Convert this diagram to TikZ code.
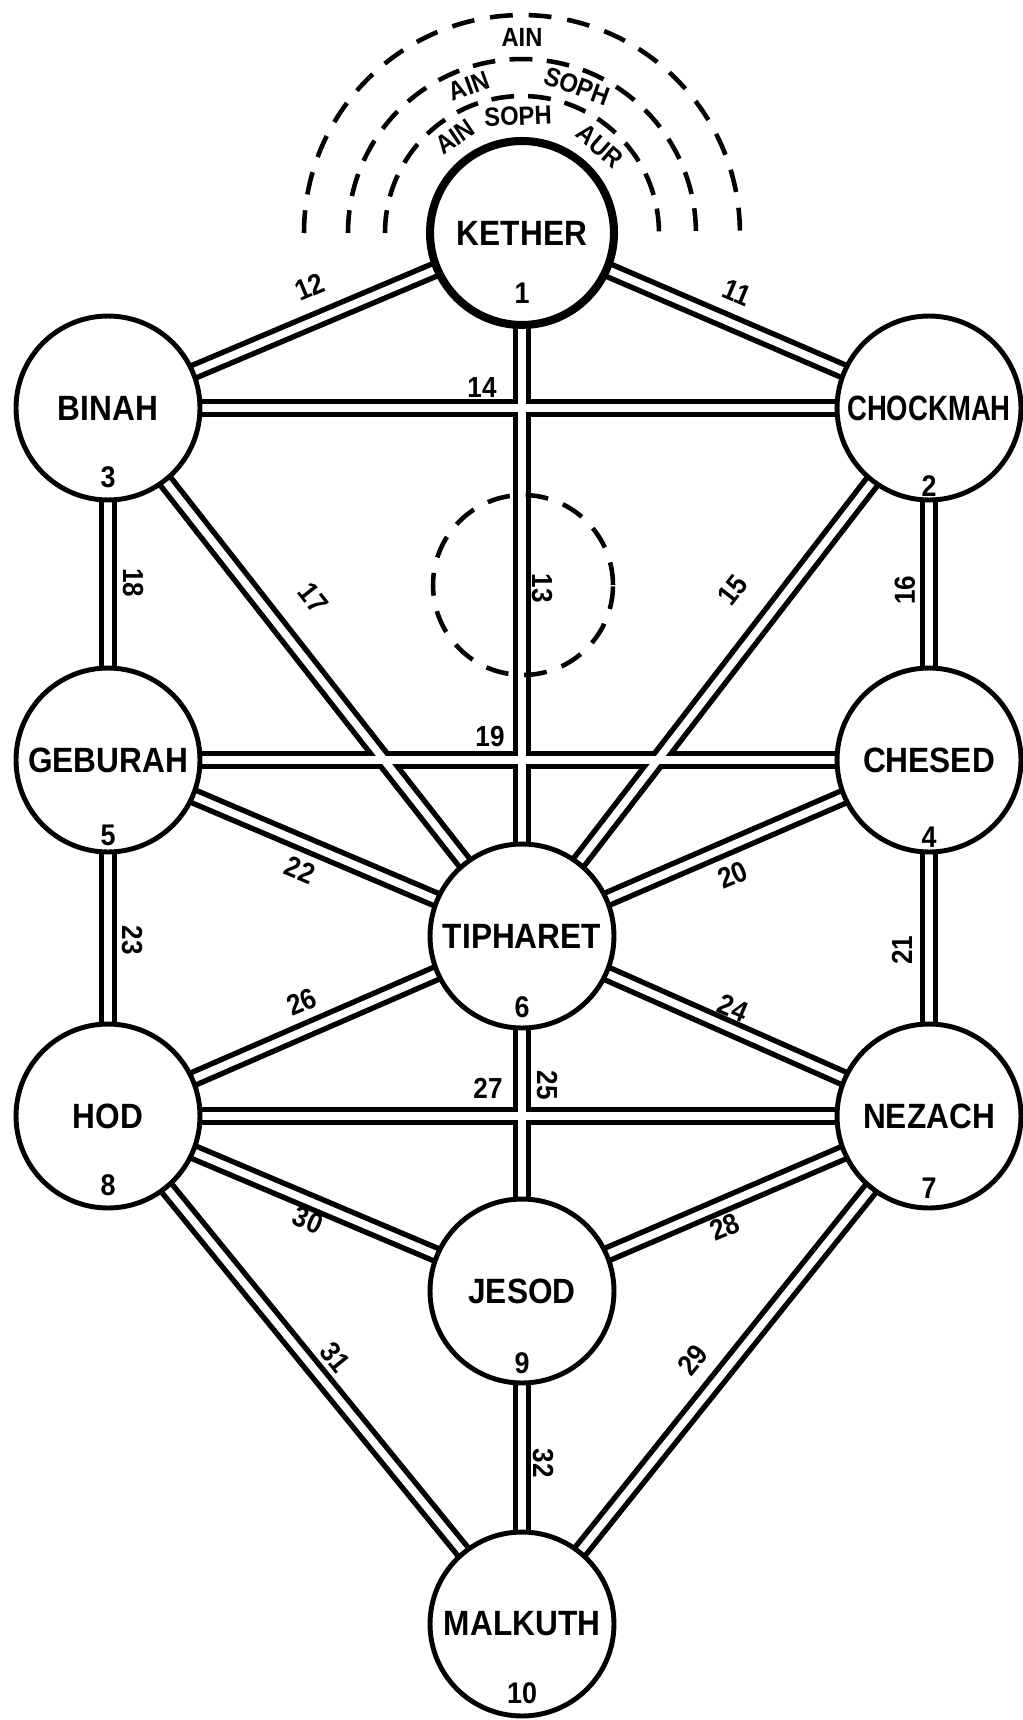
\documentclass[tikz,border=0pt]{standalone}
\usepackage{fontspec}
\setmainfont{Liberation Sans}
\newfontfamily\hand[FakeStretch=0.9]{Liberation Sans}
\usetikzlibrary{backgrounds, calc}

\begin{document}
\begin{tikzpicture}[
    x=0.02cm, y=-0.02cm,
    sephira/.style={circle, draw, line width=2.8pt, fill=white, minimum size=3.68cm, inner sep=0pt, font=\hand\fontsize{20}{20}\selectfont\bfseries},
    crown/.style={sephira, line width=4.6pt},
    sefnum/.style={font=\hand\fontsize{17}{17}\selectfont\bfseries, inner sep=0pt},
    pathnum/.style={font=\hand\fontsize{16.5}{16.5}\selectfont\bfseries, inner sep=0pt},
    veil/.style={line width=2.6pt, dash pattern=on 13pt off 9pt},
    veiltext/.style={font=\hand\fontsize{15}{15}\selectfont\bfseries, inner sep=0pt},
    pathouter/.style={line width=10.5pt},
    pathinner/.style={white, line width=4.3pt}
]
\useasboundingbox (0,0) rectangle (1023,1720);

% Sephiroth
\node[crown] (kether) at (522,233) {KETHER};
\node[sephira] (chockmah) at (929,408) {\scalebox{0.87}[1]{CHOCKMAH}};
\node[sephira] (binah) at (108,408) {BINAH};
\node[sephira] (chesed) at (929,760) {CHESED};
\node[sephira] (geburah) at (108,760) {GEBURAH};
\node[sephira] (tiphareth) at (522,936) {TIPHARET};
\node[sephira] (nezach) at (929,1116) {NEZACH};
\node[sephira] (hod) at (108,1116) {HOD};
\node[sephira] (jesod) at (522,1291) {JESOD};
\node[sephira] (malkuth) at (522,1624) {MALKUTH};

% numbers of the sephiroth
\foreach \s/\k/\d in {kether/1/60, chockmah/2/78, binah/3/69, chesed/4/77, geburah/5/75,
    tiphareth/6/71, nezach/7/72, hod/8/69, jesod/9/72, malkuth/10/69}
  \node[sefnum] (n\k) at ($(\s)+(0,\d)$) {\k};

% the 22 paths
\def\pathlist{kether/chockmah, kether/binah, kether/tiphareth, binah/chockmah,
    chockmah/tiphareth, chockmah/chesed, binah/tiphareth, binah/geburah,
    geburah/chesed, chesed/tiphareth, chesed/nezach, geburah/tiphareth,
    geburah/hod, tiphareth/nezach, tiphareth/jesod, tiphareth/hod,
    hod/nezach, nezach/jesod, nezach/malkuth, hod/jesod, hod/malkuth, jesod/malkuth}
\begin{scope}[on background layer]
  \foreach \a/\b in \pathlist \draw[pathouter] (\a.center) -- (\b.center);
  \foreach \a/\b in \pathlist \draw[pathinner] (\a.center) -- (\b.center);
\end{scope}

% path numbers
\node[pathnum, rotate=-22.9] (p11) at (737,293) {11};
\node[pathnum, rotate=22.9] (p12) at (310,287) {12};
\node[pathnum, rotate=-90] (p13) at (542,588) {13};
\node[pathnum] (p14) at (482,388) {14};
\node[pathnum, rotate=52] (p15) at (733,590) {15};
\node[pathnum, rotate=90] (p16) at (905,590) {16};
\node[pathnum, rotate=-52] (p17) at (313,598) {17};
\node[pathnum, rotate=-90] (p18) at (133,583) {18};
\node[pathnum] (p19) at (490,737) {19};
\node[pathnum, rotate=23] (p20) at (733,875) {20};
\node[pathnum, rotate=90] (p21) at (902,950) {21};
\node[pathnum, rotate=-23] (p22) at (300,870) {22};
\node[pathnum, rotate=-90] (p23) at (132,940) {23};
\node[pathnum, rotate=-23] (p24) at (733,1008) {24};
\node[pathnum, rotate=-90] (p25) at (547,1085) {25};
\node[pathnum, rotate=23] (p26) at (302,1002) {26};
\node[pathnum] (p27) at (488,1088) {27};
\node[pathnum, rotate=23] (p28) at (725,1227) {28};
\node[pathnum, rotate=51] (p29) at (693,1360) {29};
\node[pathnum, rotate=-23] (p30) at (308,1220) {30};
\node[pathnum, rotate=-51] (p31) at (335,1357) {31};
\node[pathnum, rotate=-90] (p32) at (543,1463) {32};

% the three veils
\draw[veil, dash pattern=on 13pt off 9.08pt] ($(kether.center)+(-218,0)$) arc[start angle=180, end angle=0, radius=4.36cm];
\draw[veil, dash pattern=on 13pt off 8.21pt] ($(kether.center)+(-174,0)$) arc[start angle=180, end angle=0, radius=3.48cm];
\draw[veil, dash pattern=on 13pt off 8pt] ($(kether.center)+(-137,0)$) arc[start angle=180, end angle=0, radius=2.74cm];
\node[veiltext] (ain) at (522,37) {AIN};
\node[veiltext, rotate=20] (ain2) at (469,86) {AIN};
\node[veiltext, rotate=-20] (soph2) at (577,86) {SOPH};
\node[veiltext, rotate=34] (ain3) at (455,137) {AIN};
\node[veiltext, rotate=2] (soph3) at (518,116) {SOPH};
\node[veiltext, rotate=-41] (aur3) at (600,146) {AUR};

% Daath
\draw[veil] (523,585) circle[radius=1.8cm];

\end{tikzpicture}
\end{document}
